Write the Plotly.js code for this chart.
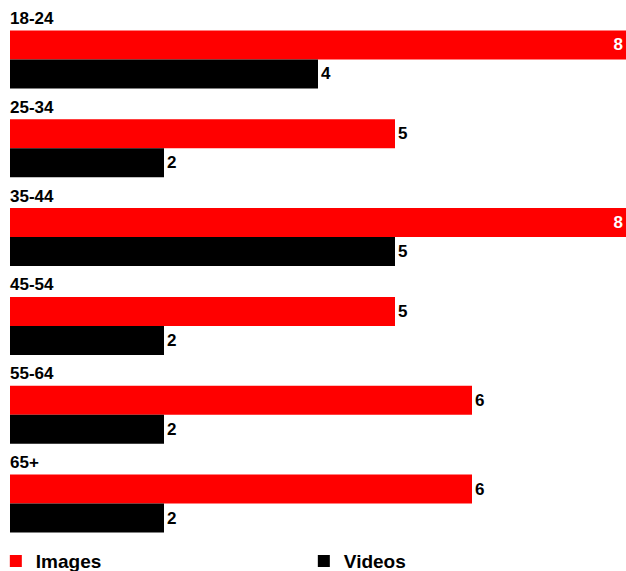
<!DOCTYPE html>
<html>
<head>
<meta charset="utf-8">
<script src="https://cdn.plot.ly/plotly-3.0.1.min.js"></script>
<style>
  html, body { margin: 0; padding: 0; background: #fff; }
  #chart { width: 626px; height: 571px; }
</style>
</head>
<body>
<div id="chart"></div>
<script>
// Age groups and counts per media type
const ageGroups = ["18-24", "25-34", "35-44", "45-54", "55-64", "65+"];
const imagesValues = [8, 5, 8, 5, 6, 6];
const videosValues = [4, 2, 5, 2, 2, 2];
const seriesNames = ["Images", "Videos"];

const FONT = "Liberation Sans, Arial, sans-serif";
const xMax = Math.max(...imagesValues, ...videosValues);

// Values that reach the full width get their label inside the bar, in white
function labelPositions(vals) {
  return vals.map(v => (v >= xMax ? "inside" : "outside"));
}
function labelColors(vals) {
  return vals.map(v => (v >= xMax ? "#ffffff" : "#000000"));
}

function barTrace(name, vals, color) {
  return {
    type: "bar",
    orientation: "h",
    name: name,
    y: ageGroups,
    x: vals,
    marker: { color: color, line: { width: 0 } },
    text: vals.map(String),
    textposition: labelPositions(vals),
    insidetextanchor: "end",
    textfont: { family: FONT, size: 17, weight: "bold", color: labelColors(vals) },
    cliponaxis: false,
    hoverinfo: "x+y+name"
  };
}

const traces = [
  barTrace(seriesNames[0], imagesValues, "#ff0000"),
  barTrace(seriesNames[1], videosValues, "#000000")
];

// Group headings sit just above each pair of bars
const headings = ageGroups.map(g => ({
  x: 0, xref: "x", xanchor: "left",
  y: g, yref: "y", yanchor: "middle",
  yshift: 41,
  xshift: -2,
  text: g,
  showarrow: false,
  font: { family: FONT, size: 17, weight: "bold", color: "#000" }
}));

const layout = {
  width: 626,
  height: 571,
  margin: { l: 10, r: 0, t: 14.5, b: 22.5, autoexpand: false },
  paper_bgcolor: "#ffffff",
  plot_bgcolor: "#ffffff",
  barmode: "group",
  bargap: 0.348,
  bargroupgap: 0,
  xaxis: { range: [0, xMax], visible: false, fixedrange: true },
  yaxis: {
    type: "category",
    range: [ageGroups.length - 0.5, -0.5],
    visible: false,
    fixedrange: true
  },
  showlegend: true,
  legend: {
    orientation: "h",
    x: -0.023, xanchor: "left",
    y: -0.0245, yanchor: "middle",
    entrywidth: 263, entrywidthmode: "pixels",
    font: { family: FONT, size: 19, weight: "bold", color: "#000" },
    itemwidth: 30,
    bgcolor: "rgba(0,0,0,0)"
  },
  annotations: headings
};

Plotly.newPlot("chart", traces, layout, { displayModeBar: false, staticPlot: true });
</script>
</body>
</html>
